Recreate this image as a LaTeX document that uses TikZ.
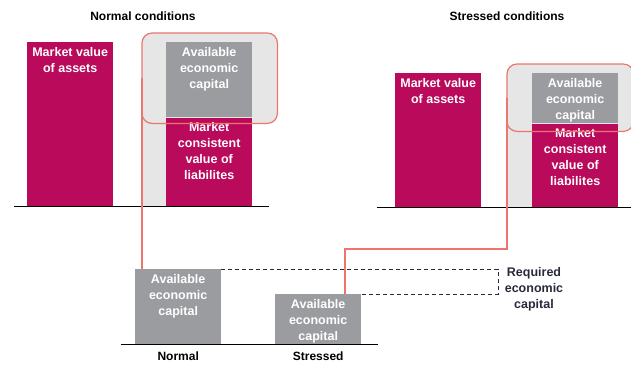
\documentclass[tikz,border=0pt]{standalone}
\usepackage{fontspec}
\setmainfont{Liberation Sans}
\usetikzlibrary{positioning}

\definecolor{berry}{RGB}{186,10,92}
\definecolor{capgray}{RGB}{154,156,159}
\definecolor{shadegray}{RGB}{230,230,230}
\definecolor{salmon}{RGB}{236,118,110}
\definecolor{slate}{RGB}{40,42,58}

\begin{document}
\begin{tikzpicture}[x=1pt,y=-1pt]

\def\barw{86pt}
\def\txtgap{5pt}

\tikzset{bar/.style = {rectangle, minimum width=\barw, inner sep=0pt, anchor=north west},
         assets/.style = {bar, fill=berry},
         capital/.style = {bar, fill=capgray},
         bartext/.style = {inner sep=0pt, align=center, text=white, font=\bfseries\fontsize{12.5}{16}\selectfont},
         title/.style = {inner sep=0pt, font=\bfseries\fontsize{12}{16}\selectfont},
         shade/.style = {fill=shadegray},
         redline/.style = {draw=salmon, line width=1.2pt},
         base/.style = {draw=black, line width=0.8pt}}

\useasboundingbox (0,0) rectangle (631,365);

% Normal conditions
\node[title] (NT) at (143,16) {Normal conditions};
\node[shade, rectangle, rounded corners=10pt, minimum width=135pt, minimum height=90pt, anchor=north west, inner sep=0pt] (NB) at (142,33) {};
\node[assets, minimum height=164pt] (NA) at (27,42) {};
\node[capital, minimum height=75pt] (NC) at (166,42) {};
\node[assets, minimum height=89pt, below=0pt of NC] (NL) {};
\fill[shade] ([yshift=10pt]NB.south west) rectangle (NL.south west);
\node[bartext, below=\txtgap of NA.north] {Market value\\of assets};
\node[bartext, below=\txtgap of NC.north] {Available\\economic\\capital};
\node[bartext, below=\txtgap of NL.north] {Market\\consistent\\value of\\liabilites};
\draw[redline, rounded corners=10pt] (NB.north west) rectangle (NB.south east);
\draw[base] (14,206) -- (269,206);

% Stressed conditions
\node[title] (ST) at (507,16) {Stressed conditions};
\node[shade, rectangle, rounded corners=10pt, minimum width=126pt, minimum height=67pt, anchor=north west, inner sep=0pt] (SB) at (507,64) {};
\node[assets, minimum height=134pt] (SA) at (395,73) {};
\node[capital, minimum height=50pt] (SC) at (532,73) {};
\node[assets, minimum height=84pt, below=0pt of SC] (SL) {};
\fill[shade] ([yshift=10pt]SB.south west) rectangle (SL.south west);
\node[bartext, below=\txtgap of SA.north] {Market value\\of assets};
\node[bartext, below=\txtgap of SC.north] {Available\\economic\\capital};
\node[bartext, below=\txtgap of SL.north] {Market\\consistent\\value of\\liabilites};
\draw[redline, rounded corners=10pt] (SB.north west) rectangle (SB.south east);
\draw[base] (377,207) -- (631,207);

% Comparison
\node[capital, minimum height=75pt] (BN) at (135,269) {};
\node[capital, minimum height=50pt] (BS) at (275,294) {};
\node[bartext, below=\txtgap of BN.north] {Available\\economic\\capital};
\node[bartext, below=\txtgap of BS.north] {Available\\economic\\capital};
\draw[base] (121,344) -- (378,344);
\node[title, below=7pt of BN.south] (NL2) {Normal};
\node[title, below=7pt of BS.south] (SL2) {Stressed};

% required capital
\coordinate (rq) at (498,0);
\node[inner sep=0pt, align=center, text=slate, font=\bfseries\fontsize{12.5}{16}\selectfont] (req) at (534,289) {Required\\economic\\capital};
\draw[slate, line width=0.8pt, dash pattern=on 4pt off 3pt] (BN.north east) -- (BN.north east -| rq) -- (BS.north east -| rq) -- (BS.north east);

% links
\coordinate (bend) at (345,249);
\draw[redline] (NB.west) -- (NB.west |- BN.north);
\draw[redline] (SB.west) |- (bend) -- (bend |- BS.north);

\end{tikzpicture}
\end{document}
